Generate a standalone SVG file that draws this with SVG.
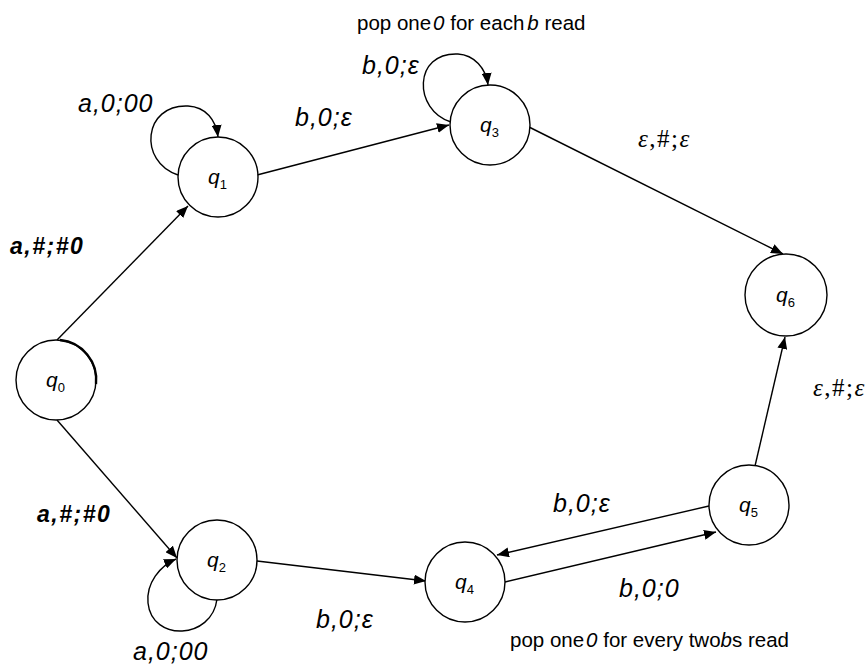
<svg xmlns="http://www.w3.org/2000/svg" width="867" height="666" viewBox="0 0 867 666">
  <style>
    .state { fill: #fff; stroke: #000; stroke-width: 1.4; }
    .edge { fill: none; stroke: #000; stroke-width: 1.4; marker-end: url(#arrow); }
    .qname { font-family: "Liberation Sans", Arial, sans-serif; font-style: italic; font-size: 21px; fill: #000; }
    .qsub { font-size: 13px; font-style: normal; }
    .lbl { font-family: "Liberation Sans", Arial, sans-serif; font-style: italic; font-size: 25px; letter-spacing: 1px; fill: #000; }
    .blbl { font-family: "Liberation Sans", Arial, sans-serif; font-style: italic; font-weight: bold; font-size: 23px; letter-spacing: 1.5px; fill: #000; }
    .elbl { font-family: "Liberation Serif", "Times New Roman", serif; font-size: 25px; letter-spacing: 1.5px; fill: #000; }
    .eps { font-style: italic; }
    .note { font-family: "Liberation Sans", Arial, sans-serif; font-size: 20.5px; fill: #000; }
    .it { font-style: italic; }
  </style>
  <defs>
    <marker id="arrow" viewBox="0 0 12 10" refX="12" refY="5" markerWidth="12" markerHeight="10" markerUnits="userSpaceOnUse" orient="auto">
      <path d="M0,0 L12,5 L0,10 Z" fill="#000"/>
    </marker>
  </defs>

  <!-- transitions -->
  <g id="connectors">
    <path class="edge" d="M57,340 L188,206"/>
    <path class="edge" d="M57,420 L177,558"/>
    <path class="edge" d="M178,175 C138,162 143,104 188,106 C206,107 216,120 218,137"/>
    <path class="edge" d="M257,175 L449,125"/>
    <path class="edge" d="M451,122 C413,110 413,52 458,54 C474,55 486,68 488,85"/>
    <path class="edge" d="M529,127 L783,254"/>
    <path class="edge" d="M755,466 L785,337"/>
    <path class="edge" d="M709,506 L497,555"/>
    <path class="edge" d="M505,582 L716,532"/>
    <path class="edge" d="M257,561 L426,581"/>
    <path class="edge" d="M217,599 C212,640 152,642 148,603 C146,583 160,566 176,559"/>
  </g>

  <!-- transition labels -->
  <g id="labels">
    <text class="blbl" x="10" y="254">a,#;#0</text>
    <text class="blbl" x="37" y="522">a,#;#0</text>
    <text class="lbl" x="78" y="112">a,0;00</text>
    <text class="lbl" x="133" y="660">a,0;00</text>
    <text class="lbl" x="295" y="126">b,0;ε</text>
    <text class="lbl" x="362" y="74">b,0;ε</text>
    <text class="lbl" x="316" y="628">b,0;ε</text>
    <text class="lbl" x="553" y="512">b,0;ε</text>
    <text class="lbl" x="619" y="597">b,0;0</text>
    <text class="elbl" x="638" y="147" font-size="27"><tspan class="eps">ε</tspan>,#;<tspan class="eps">ε</tspan></text>
    <text class="elbl" x="813" y="396"><tspan class="eps">ε</tspan>,#;<tspan class="eps">ε</tspan></text>
    <text class="note" x="357" y="30">pop one<tspan class="it" dx="2">0</tspan> for each<tspan class="it" dx="3">b</tspan> read</text>
    <text class="note" x="510" y="647">pop one<tspan class="it" dx="2">0</tspan> for every two<tspan class="it">b</tspan>s read</text>
  </g>

  <!-- states -->
  <g id="q0">
    <circle class="state" cx="56" cy="380" r="40"/>
    <path d="M60,340 A40,40 0 0 1 96,384" fill="none" stroke="#000" stroke-width="2.4"/>
    <text class="qname" x="46" y="387">q<tspan class="qsub" dy="5">0</tspan></text>
  </g>
  <g id="q1">
    <circle class="state" cx="218" cy="177" r="40"/>
    <text class="qname" x="208" y="184">q<tspan class="qsub" dy="5">1</tspan></text>
  </g>
  <g id="q2">
    <circle class="state" cx="217" cy="560" r="40"/>
    <text class="qname" x="207" y="567">q<tspan class="qsub" dy="5">2</tspan></text>
  </g>
  <g id="q3">
    <circle class="state" cx="490" cy="125" r="40"/>
    <text class="qname" x="480" y="132">q<tspan class="qsub" dy="5">3</tspan></text>
  </g>
  <g id="q4">
    <circle class="state" cx="465" cy="582" r="40"/>
    <text class="qname" x="455" y="589">q<tspan class="qsub" dy="5">4</tspan></text>
  </g>
  <g id="q5">
    <circle class="state" cx="749" cy="505" r="40"/>
    <text class="qname" x="739" y="512">q<tspan class="qsub" dy="5">5</tspan></text>
  </g>
  <g id="q6">
    <circle class="state" cx="786" cy="295" r="41"/>
    <text class="qname" x="776" y="302">q<tspan class="qsub" dy="5">6</tspan></text>
  </g>
</svg>
